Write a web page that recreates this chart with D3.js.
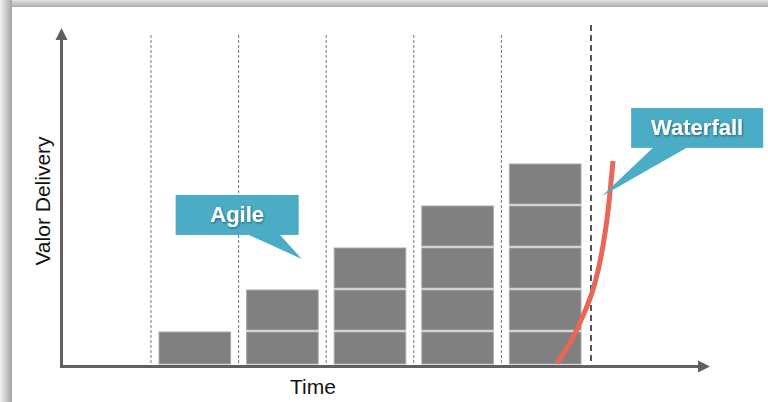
<!DOCTYPE html>
<html>
<head>
<meta charset="utf-8">
<script src="https://cdn.jsdelivr.net/npm/d3@7"></script>
<style>
  html, body { margin: 0; padding: 0; background: #fff; }
  svg { display: block; font-family: "Liberation Sans", Arial, sans-serif; }
</style>
</head>
<body>
<div id="chart"></div>
<script>
// sprints and the value delivered after each one (in increments)
const sprints = ["Sprint 1", "Sprint 2", "Sprint 3", "Sprint 4", "Sprint 5"];
const increments = [1, 2, 3, 4, 5];

// waterfall curve, [time in sprints, value in increments]
const waterfallT = [4.635, 4.806, 4.943, 5.034, 5.114, 5.171, 5.217, 5.274];
const waterfallV = [0.26, 0.79, 1.43, 1.9, 2.52, 3.17, 3.81, 5.07];

// callouts: text and where the tail points to [time, value]
const callouts = [
  { label: "Agile", t: 1.72, v: 2.74 },
  { label: "Waterfall", t: 5.15, v: 4.24 }
];

const W = 768, H = 402;
const svg = d3.select("#chart").append("svg")
  .attr("width", W)
  .attr("height", H);

const defs = svg.append("defs");

// frame shadow
const gTop = defs.append("linearGradient").attr("id", "gTop")
  .attr("x1", 0).attr("y1", 0).attr("x2", 0).attr("y2", 1);
gTop.append("stop").attr("offset", "0%").attr("stop-color", "#e4e4e4");
gTop.append("stop").attr("offset", "100%").attr("stop-color", "#a9a9a9");
const gLeft = defs.append("linearGradient").attr("id", "gLeft")
  .attr("x1", 0).attr("y1", 0).attr("x2", 1).attr("y2", 0);
gLeft.append("stop").attr("offset", "0%").attr("stop-color", "#f2f2f2");
gLeft.append("stop").attr("offset", "100%").attr("stop-color", "#a4a4a4");

svg.append("rect").attr("x", 0).attr("y", 0).attr("width", W).attr("height", 7)
  .attr("fill", "url(#gTop)");
svg.append("rect").attr("x", 0).attr("y", 0).attr("width", 12).attr("height", H)
  .attr("fill", "url(#gLeft)");

// text shadow for callouts
const shadow = defs.append("filter").attr("id", "ts")
  .attr("x", "-20%").attr("y", "-40%").attr("width", "140%").attr("height", "180%");
shadow.append("feDropShadow").attr("dx", 0.8).attr("dy", 1.2)
  .attr("stdDeviation", 0.9).attr("flood-color", "#000").attr("flood-opacity", 0.45);

// scales
const x = d3.scaleBand().domain(sprints).range([151, 589]).paddingInner(0.16).paddingOuter(0.08);
const xt = d3.scaleLinear().domain([0, sprints.length]).range([151, 589]);
const y = d3.scaleLinear().domain([0, 8]).range([374, 38]);

const axisX0 = 61.5, axisY0 = 366.5;
const axisColor = "#606060";

// sprint separators
svg.append("g").selectAll("line")
  .data(d3.range(sprints.length))
  .join("line")
  .attr("x1", d => xt(d)).attr("x2", d => xt(d))
  .attr("y1", 35).attr("y2", axisY0)
  .attr("stroke", "#777")
  .attr("stroke-width", 1)
  .attr("stroke-dasharray", "3,2");

// release line
svg.append("line")
  .attr("x1", xt(sprints.length) + 2).attr("x2", xt(sprints.length) + 2)
  .attr("y1", 25).attr("y2", axisY0)
  .attr("stroke", "#555")
  .attr("stroke-width", 2)
  .attr("stroke-dasharray", "6,4");

// stacked increments
const bars = svg.append("g");
sprints.forEach((s, i) => {
  const segs = d3.range(increments[i]);
  bars.selectAll(null)
    .data(segs)
    .join("rect")
    .attr("x", x(s) + 1)
    .attr("width", x.bandwidth() - 2)
    .attr("y", k => y(k + 1))
    .attr("height", k => Math.min(y(k) - 2, axisY0 - 2.5) - y(k + 1))
    .attr("fill", "#808080")
    .attr("stroke", "#a8a8a8")
    .attr("stroke-width", 1);
});

// axes
svg.append("line")
  .attr("x1", axisX0).attr("x2", axisX0)
  .attr("y1", axisY0 + 1.5).attr("y2", 38)
  .attr("stroke", axisColor).attr("stroke-width", 3);
svg.append("path")
  .attr("d", `M${axisX0 - 6},${40} L${axisX0},${28} L${axisX0 + 6},${40} Z`)
  .attr("fill", axisColor);
svg.append("line")
  .attr("x1", axisX0 - 1.5).attr("x2", 700)
  .attr("y1", axisY0).attr("y2", axisY0)
  .attr("stroke", axisColor).attr("stroke-width", 3);
svg.append("path")
  .attr("d", `M${698},${axisY0 - 6} L${710},${axisY0} L${698},${axisY0 + 6} Z`)
  .attr("fill", axisColor);

// waterfall curve
const line = d3.line()
  .x(d => xt(d[0]))
  .y(d => y(d[1]))
  .curve(d3.curveBasis);
svg.append("path")
  .datum(d3.zip(waterfallT, waterfallV))
  .attr("d", line)
  .attr("fill", "none")
  .attr("stroke", "#ea6656")
  .attr("stroke-width", 5);

// axis titles
svg.append("text")
  .attr("transform", "translate(50,201) rotate(-90)")
  .attr("text-anchor", "middle")
  .attr("font-size", 21)
  .attr("fill", "#111")
  .text("Valor Delivery");
svg.append("text")
  .attr("x", 313).attr("y", 394)
  .attr("text-anchor", "middle")
  .attr("font-size", 21)
  .attr("fill", "#111")
  .text("Time");

// callout shapes, offsets from the tail point
const shapes = {
  Agile: { bx: -126, by: -64, bw: 123, bh: 40, t1: -54, t2: -22 },
  Waterfall: { bx: 29, by: -88, bw: 132, bh: 40, t1: 51, t2: 85 }
};
const teal = "#4bacc6";
callouts.forEach(c => {
  const px = xt(c.t), py = y(c.v);
  const s = shapes[c.label];
  const g = svg.append("g");
  const top = py + s.by, bottom = top + s.bh;
  g.append("rect")
    .attr("x", px + s.bx).attr("y", top)
    .attr("width", s.bw).attr("height", s.bh)
    .attr("fill", teal);
  g.append("path")
    .attr("d", `M${px + s.t1},${bottom - 0.5} L${px + s.t2},${bottom - 0.5} L${px},${py} Z`)
    .attr("fill", teal);
  g.append("text")
    .attr("x", px + s.bx + s.bw / 2)
    .attr("y", top + 27)
    .attr("text-anchor", "middle")
    .attr("font-size", 22)
    .attr("font-weight", "bold")
    .attr("fill", "#fff")
    .attr("filter", "url(#ts)")
    .text(c.label);
});
</script>
</body>
</html>
